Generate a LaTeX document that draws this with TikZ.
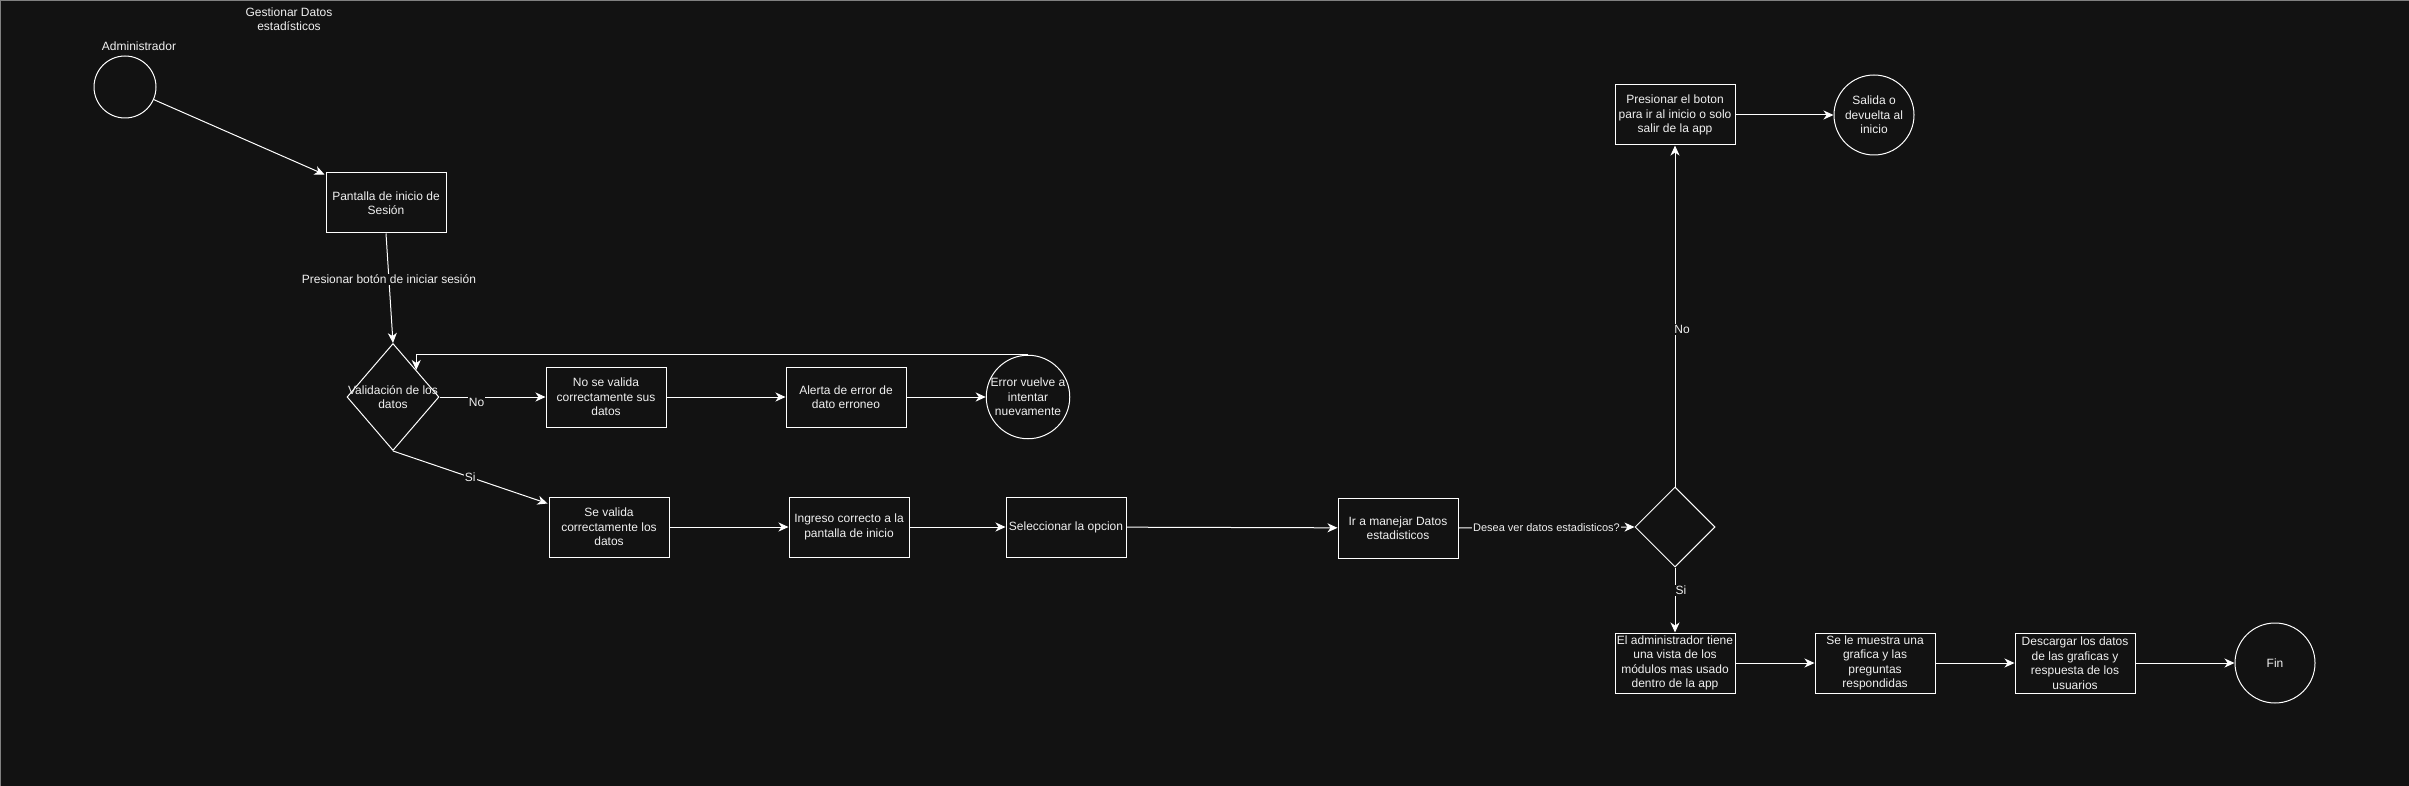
\documentclass[tikz,border=0pt]{standalone}
\usepackage{fontspec}
\setmainfont{Liberation Sans}
\usetikzlibrary{shapes.geometric,arrows.meta,calc}
\definecolor{bg}{HTML}{121212}
\definecolor{fg}{HTML}{F0F0F0}
\begin{document}
\begin{tikzpicture}[x=1pt,y=-1pt,
  font=\fontsize{12}{14.5}\selectfont,
  every node/.style={text=fg},
  box/.style={draw=white, line width=1pt, fill=bg, minimum width=120pt, minimum height=60pt, inner sep=0pt, align=center},
  circ/.style={circle, draw=white, line width=1pt, fill=bg, minimum size=80pt, inner sep=0pt, align=center},
  dia/.style={diamond, draw=white, line width=1pt, fill=bg, inner sep=0pt},
  arr/.style={draw=white, line width=1pt, -{Stealth[length=10pt,width=9pt,inset=3pt]}},
  lbl/.style={fill=bg, inner sep=1pt, text=fg},
  plain/.style={align=center, inner sep=0pt}]
\useasboundingbox (0,0) rectangle (2409,786);
\fill[bg] (0,0) rectangle (2409,786);
\draw[gray, line width=1pt] (0.5,786) -- (0.5,0.5) -- (2409,0.5);

% texts
\node[plain] (title) at (289,19) {Gestionar Datos\\estadísticos};
\node[plain] (adminlbl) at (139,46) {Administrador};

% nodes
\node[circ, minimum size=62pt] (admin) at (125,87) {};
\node[box] (pantalla) at (386,203) {Pantalla de inicio de\\Sesión};
\node[dia, minimum width=92pt, minimum height=107pt,
      label={[align=center, text=fg]center:Validación de los\\datos}] (val) at (393,397) {};
\node[box] (nosevalida) at (606,397) {No se valida\\correctamente sus\\datos};
\node[box] (alerta) at (846,397) {Alerta de error de\\dato erroneo};
\node[circ] (error) at (1028,397) {Error vuelve a\\intentar\\nuevamente};
\node[box] (sevalida) at (609,527) {Se valida\\correctamente los\\datos};
\node[box] (ingreso) at (849,527) {Ingreso correcto a la\\pantalla de inicio};
\node[box] (selec) at (1066,527) {Seleccionar la opcion};
\node[box] (ir) at (1398,528) {Ir a manejar Datos\\estadisticos};
\node[dia, minimum width=80pt, minimum height=80pt] (d2) at (1675,527) {};
\node[box] (presionar) at (1675,115) {Presionar el boton\\para ir al inicio o solo\\salir de la app};
\node[circ] (salida) at (1874,115) {Salida o\\devuelta al\\inicio};
\node[box] (admin2) at (1675,663) {El administrador tiene\\una vista de los\\módulos mas usado\\dentro de la app};
\node[box] (muestra) at (1875,663) {Se le muestra una\\grafica y las\\preguntas\\respondidas};
\node[box] (descargar) at (2075,663) {Descargar los datos\\de las graficas y\\respuesta de los\\usuarios};
\node[circ] (fin) at (2275,663) {Fin};

% connectors
\draw[arr] (admin) -- ($(pantalla.north west)+(-1,2)$);
\draw[arr] (pantalla.south) -- node[lbl, pos=0.42] {Presionar botón de iniciar sesión} (val.north);
\draw[arr] (val.east) -- node[lbl, pos=0.35, yshift=-5pt] {No} (nosevalida.west);
\draw[arr] (nosevalida) -- (alerta);
\draw[arr] (alerta) -- (error);
\draw[arr] (error.north) -| (val.north east);
\draw[arr] (val.south) -- node[lbl, pos=0.5] {Si} ($(sevalida.north west)+(-1,7)$);
\draw[arr] (sevalida) -- (ingreso);
\draw[arr] (ingreso) -- (selec);
\draw[arr] (selec) -- (ir);
\draw[arr] (ir.east) -- node[lbl, pos=0.5, font=\fontsize{11}{13}\selectfont] {Desea ver datos estadisticos?} (d2.west);
\draw[arr] (d2.north) -- node[lbl, pos=0.46, xshift=7pt] {No} (presionar.south);
\draw[arr] (presionar) -- (salida);
\draw[arr] (d2.south) -- node[lbl, pos=0.35, xshift=6pt] {Si} (admin2.north);
\draw[arr] (admin2) -- (muestra);
\draw[arr] (muestra) -- (descargar);
\draw[arr] (descargar) -- (fin);
\end{tikzpicture}
\end{document}
